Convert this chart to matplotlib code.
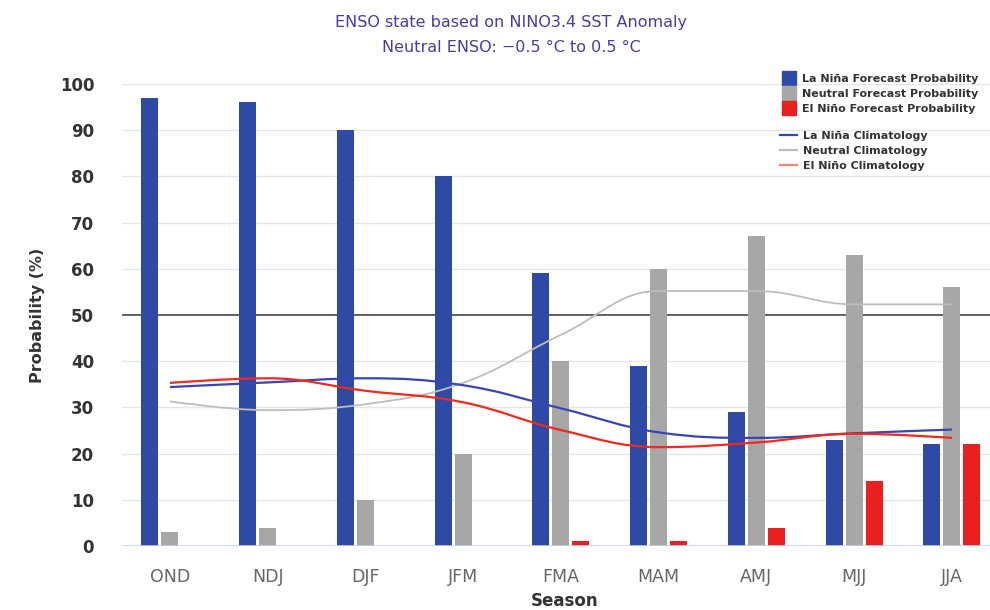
import numpy as np
import matplotlib
matplotlib.use("Agg")
import matplotlib.pyplot as plt
from matplotlib.path import Path
from matplotlib.patches import PathPatch
from matplotlib.lines import Line2D

seasons = ["OND", "NDJ", "DJF", "JFM", "FMA", "MAM", "AMJ", "MJJ", "JJA"]
lanina_prob = [97, 96, 90, 80, 59, 39, 29, 23, 22]
neutral_prob = [3, 4, 10, 20, 40, 60, 67, 63, 56]
elnino_prob = [0, 0, 0, 0, 1, 1, 4, 14, 22]
lanina_clim = [34.4, 35.4, 36.3, 34.8, 29.8, 24.6, 23.4, 24.4, 25.2]
neutral_clim = [31.3, 29.4, 30.7, 35.3, 45.7, 55.2, 55.2, 52.3, 52.3]
elnino_clim = [35.3, 36.3, 33.6, 31.1, 25.1, 21.4, 22.4, 24.3, 23.4]

C_LN = "#2f4aa5"
C_NE = "#a7a7a7"
C_EN = "#e8201f"
C_LN_L = "#3a45b5"
C_NE_L = "#bdbdbd"
C_EN_L = "#f02a1c"


def spline_path(xs, ys, smooth=1.5):
    """Highcharts-style spline as cubic Bezier path through the data points."""
    n = len(xs)
    left = [None] * n
    right = [None] * n
    for i in range(n):
        x, y = xs[i], ys[i]
        if 0 < i < n - 1:
            lx, ly = xs[i - 1], ys[i - 1]
            nx, ny = xs[i + 1], ys[i + 1]
            d = smooth + 1
            lcx = (smooth * x + lx) / d
            lcy = (smooth * y + ly) / d
            rcx = (smooth * x + nx) / d
            rcy = (smooth * y + ny) / d
            corr = ((rcy - lcy) * (rcx - x)) / (rcx - lcx) + y - rcy
            lcy += corr
            rcy += corr
            if lcy > ly and lcy > y:
                lcy = max(ly, y)
                rcy = 2 * y - lcy
            elif lcy < ly and lcy < y:
                lcy = min(ly, y)
                rcy = 2 * y - lcy
            if rcy > ny and rcy > y:
                rcy = max(ny, y)
                lcy = 2 * y - rcy
            elif rcy < ny and rcy < y:
                rcy = min(ny, y)
                lcy = 2 * y - rcy
            left[i] = (lcx, lcy)
            right[i] = (rcx, rcy)
        else:
            left[i] = (x, y)
            right[i] = (x, y)
    verts = [(xs[0], ys[0])]
    codes = [Path.MOVETO]
    for i in range(1, n):
        verts += [right[i - 1], left[i], (xs[i], ys[i])]
        codes += [Path.CURVE4] * 3
    return Path(verts, codes)


fig = plt.figure(figsize=(9.9, 6.1), dpi=100)
ax = fig.add_axes([122 / 990, 64 / 610, 1 - 122 / 990, (546 - 84) / 610])

x = np.arange(len(seasons))
bw = 0.175
off = 0.205
ax.bar(x - off, lanina_prob, bw, color=C_LN, zorder=3)
ax.bar(x, neutral_prob, bw, color=C_NE, zorder=3)
ax.bar(x + off, elnino_prob, bw, color=C_EN, zorder=3)

for vals, col, lw in [(neutral_clim, C_NE_L, 1.3), (lanina_clim, C_LN_L, 1.6), (elnino_clim, C_EN_L, 1.6)]:
    p = spline_path(list(x.astype(float)), vals)
    ax.add_patch(PathPatch(p, fill=False, edgecolor=col, lw=lw, zorder=4))

ax.set_xlim(-0.49, 8.39)
ax.set_ylim(0, 100)
ax.set_yticks(range(0, 101, 10))
for v in range(10, 101, 10):
    if v == 50:
        ax.axhline(v, color="#555555", lw=1.3, zorder=2)
    else:
        ax.axhline(v, color="#e6e6e6", lw=1.0, zorder=1)
ax.axhline(0, color="#c4d2e6", lw=1.2, zorder=5)

for s in ax.spines.values():
    s.set_visible(False)
ax.tick_params(axis="y", length=0, pad=20, labelsize=12, labelcolor="#333333")
ax.tick_params(axis="x", length=0, pad=16, labelsize=12.5, labelcolor="#666666")
for t in ax.get_yticklabels():
    t.set_fontweight("bold")
ax.set_xticks(x)
ax.set_xticklabels(seasons)

fig.text(38 / 990, 1 - 315 / 610, "Probability (%)", rotation=90, ha="center", va="center",
         fontsize=11.5, fontweight="bold", color="#333333")
fig.text(565 / 990, 1 - 601 / 610, "Season", ha="center", va="center",
         fontsize=12, fontweight="bold", color="#333333")

fig.text(511 / 990, 1 - 23 / 610, "ENSO state based on NINO3.4 SST Anomaly", ha="center", va="center",
         fontsize=11.5, color="#4a3c9c")
fig.text(511 / 990, 1 - 48 / 610, "Neutral ENSO: \u22120.5 \u00b0C to 0.5 \u00b0C", ha="center", va="center",
         fontsize=11.5, color="#4a3c9c")

h1 = [Line2D([], [], ls="none", marker="s", markersize=9.5, color=c) for c in (C_LN, C_NE, C_EN)]
l1 = ["La Niña Forecast Probability", "Neutral Forecast Probability", "El Niño Forecast Probability"]
h2 = [Line2D([], [], color=c, lw=1.6) for c in (C_LN_L, C_NE_L, "#f4876e")]
l2 = ["La Niña Climatology", "Neutral Climatology", "El Niño Climatology"]
leg_kw = dict(loc="upper left", frameon=False, labelspacing=0.45,
              handletextpad=0.6, borderpad=0, borderaxespad=0, labelcolor="#333333",
              prop={"weight": "bold", "size": 8.0})
lg1 = fig.legend(h1, l1, bbox_to_anchor=(782 / 990, 1 - 74 / 610), handlelength=1.2, **leg_kw)
lg2 = fig.legend(h2, l2, bbox_to_anchor=(780 / 990, 1 - 131 / 610), handlelength=1.5, **leg_kw)
for lg in (lg1, lg2):
    lg.set_zorder(10)

fig.savefig("out.png", dpi=100)
